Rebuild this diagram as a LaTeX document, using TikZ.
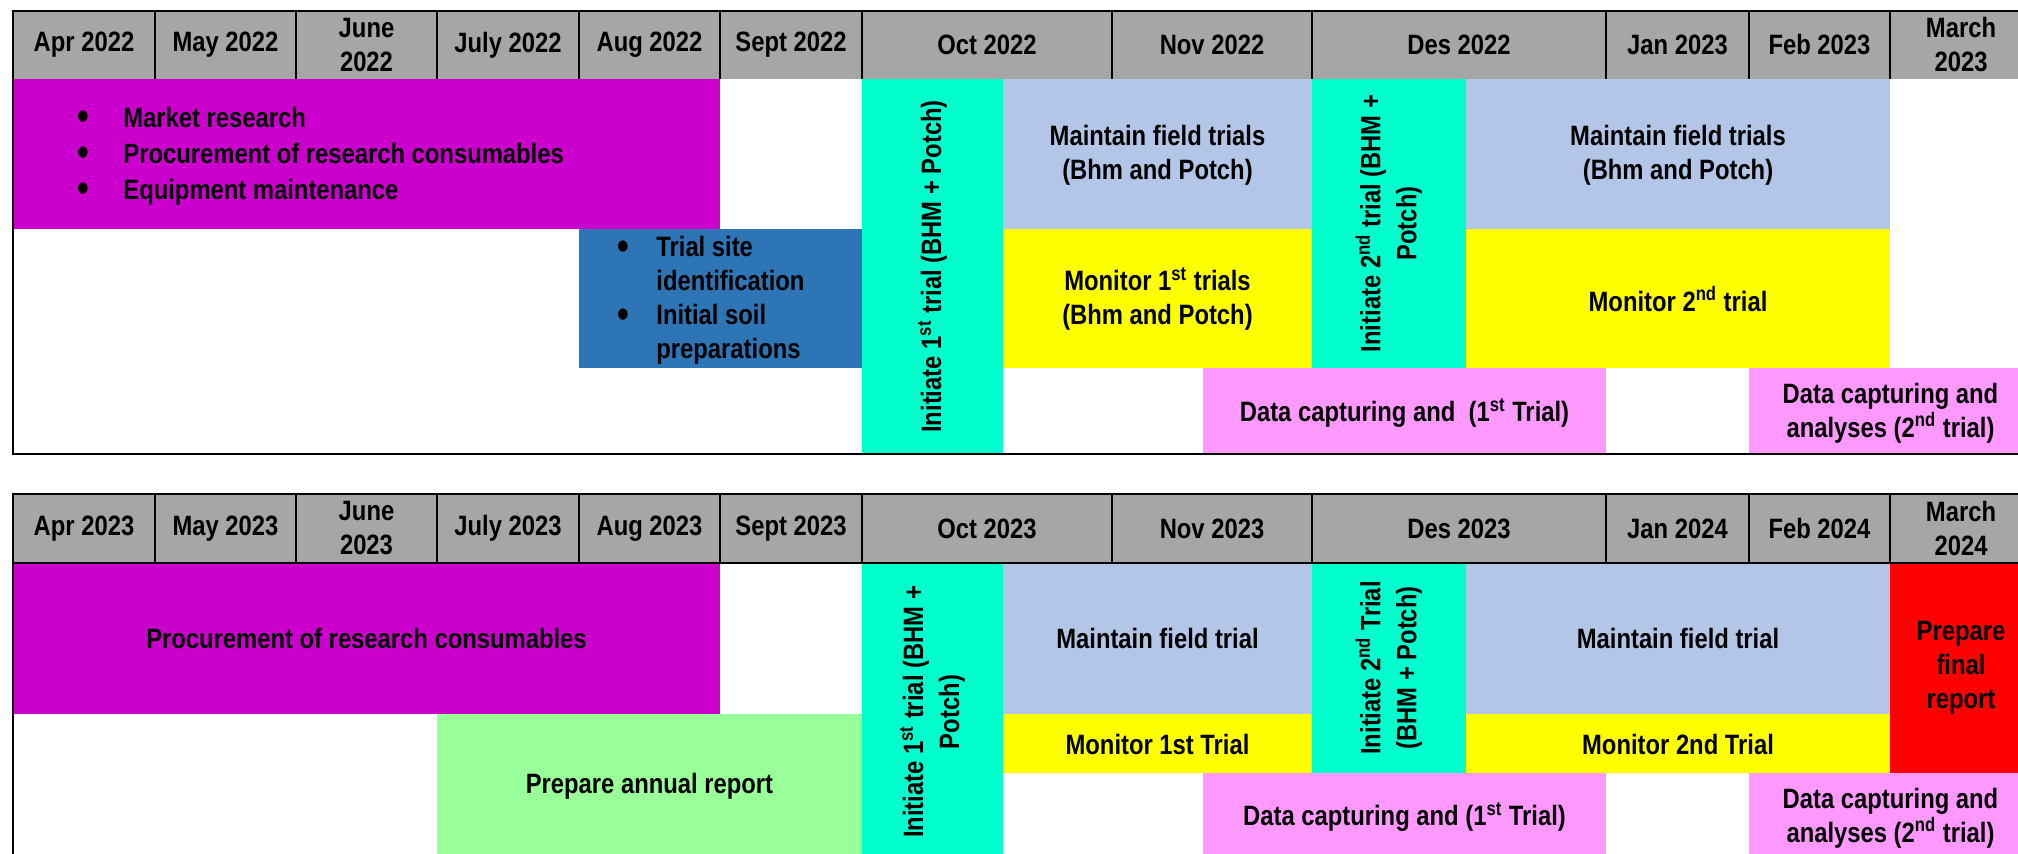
\documentclass[tikz,border=0pt]{standalone}
\usepackage{fontspec}
\setmainfont{Liberation Sans}[FakeStretch=0.85]
\usetikzlibrary{positioning}

\definecolor{hdrgray}{HTML}{A6A6A6}
\definecolor{magentabar}{HTML}{CC00CC}
\definecolor{bluebar}{HTML}{2E75B6}
\definecolor{cyanbar}{HTML}{00FFCC}
\definecolor{fieldbar}{HTML}{B4C6E7}
\definecolor{yellowbar}{HTML}{FFFF00}
\definecolor{pinkbar}{HTML}{FF99FF}
\definecolor{greenbar}{HTML}{99FF99}
\definecolor{redbar}{HTML}{FF0000}

\newcommand{\bul}{\raisebox{-0.08em}{\scalebox{1.4}{\textbullet}}}

\tikzset{
  lbl/.style={font=\fontsize{14}{17}\selectfont\bfseries, align=center, inner sep=0pt},
  vlbl/.style={lbl, rotate=90},
  bullets/.style={lbl, anchor=west, align=left},
  frame/.style={draw=black, line width=1.2pt},
  sep/.style={draw=black, line width=0.9pt}
}

\begin{document}
\begin{tikzpicture}[x=0.5pt,y=-0.5pt]
  \useasboundingbox (0,0) rectangle (2018,854);
  \clip (0,0) rectangle (2018,854);

  % 2022/23 plan
  \fill[hdrgray] (13,11) rectangle (2032,79);
  \foreach \a/\b/\m [count=\i] in {13/155/Apr 2022, 155/296/May 2022, 296/437/{June\\2022},
      437/579/July 2022, 579/720/Aug 2022, 720/862/Sept 2022, 862/1112/Oct 2022,
      1112/1312/Nov 2022, 1312/1606/Des 2022, 1606/1749/Jan 2023, 1749/1890/Feb 2023,
      1890/2032/{March\\2023}}
    \node[lbl] (mon1-\i) at ({(\a+\b)/2},45) {\m};
  \foreach \x in {155,296,437,579,720,862,1112,1312,1606,1749,1890}
    \draw[sep] (\x,11) -- (\x,79);

  \fill[magentabar] (13,79) rectangle (720,229);
  \fill[bluebar] (579,229) rectangle (862,368);
  \fill[cyanbar] (862,79) rectangle (1003,454);
  \fill[fieldbar] (1003,79) rectangle (1312,229);
  \fill[yellowbar] (1003,229) rectangle (1312,368);
  \fill[cyanbar] (1312,79) rectangle (1466,368);
  \fill[fieldbar] (1466,79) rectangle (1890,229);
  \fill[yellowbar] (1466,229) rectangle (1890,368);
  \fill[pinkbar] (1203,368) rectangle (1606,454);
  \fill[pinkbar] (1749,368) rectangle (2032,454);
  \draw[frame] (13,11) rectangle (2032,454);

  \node[bullets, font=\fontsize{14}{18}\selectfont\bfseries] (prep1) at (77,156)
    {\begin{tabular}{@{}p{23pt}@{}l@{}}
      \bul & Market research\\
      \bul & Procurement of research consumables\\
      \bul & Equipment maintenance
    \end{tabular}};
  \node[bullets] (site1) at (617,301)
    {\begin{tabular}{@{}p{19.5pt}@{}l@{}}
      \bul & Trial site\\
           & identification\\
      \bul & Initial soil\\
           & preparations
    \end{tabular}};
  \node[vlbl] (init1a) at (932.5,266.5) {Initiate 1\textsuperscript{st} trial (BHM + Potch)};
  \node[lbl] (maint1a) at (1157.5,155) {Maintain field trials\\(Bhm and Potch)};
  \node[lbl] (mon1a) at (1157.5,299) {Monitor 1\textsuperscript{st} trials\\(Bhm and Potch)};
  \node[vlbl, font=\fontsize{14}{18}\selectfont\bfseries] (init1b) at (1389,223.5)
    {Initiate 2\textsuperscript{nd} trial (BHM +\\Potch)};
  \node[lbl] (maint1b) at (1678,155) {Maintain field trials\\(Bhm and Potch)};
  \node[lbl] (mon1b) at (1678,299) {Monitor 2\textsuperscript{nd} trial};
  \node[lbl] (data1a) at (1404.5,413) {Data capturing and\ \ (1\textsuperscript{st} Trial)};
  \node[lbl] (data1b) at (1890.5,413) {Data capturing and\\analyses (2\textsuperscript{nd} trial)};

  % 2023/24 plan
  \fill[hdrgray] (13,494) rectangle (2032,563);
  \foreach \a/\b/\m [count=\i] in {13/155/Apr 2023, 155/296/May 2023, 296/437/{June\\2023},
      437/579/July 2023, 579/720/Aug 2023, 720/862/Sept 2023, 862/1112/Oct 2023,
      1112/1312/Nov 2023, 1312/1606/Des 2023, 1606/1749/Jan 2024, 1749/1890/Feb 2024,
      1890/2032/{March\\2024}}
    \node[lbl] (mon2-\i) at ({(\a+\b)/2},528.5) {\m};
  \foreach \x in {155,296,437,579,720,862,1112,1312,1606,1749,1890}
    \draw[sep] (\x,494) -- (\x,563);

  \fill[magentabar] (13,563) rectangle (720,714);
  \fill[greenbar] (437,714) rectangle (862,870);
  \fill[cyanbar] (862,563) rectangle (1003,870);
  \fill[fieldbar] (1003,563) rectangle (1312,714);
  \fill[yellowbar] (1003,714) rectangle (1312,773);
  \fill[cyanbar] (1312,563) rectangle (1466,773);
  \fill[fieldbar] (1466,563) rectangle (1890,714);
  \fill[yellowbar] (1466,714) rectangle (1890,773);
  \fill[redbar] (1890,563) rectangle (2032,773);
  \fill[pinkbar] (1203,773) rectangle (1606,870);
  \fill[pinkbar] (1749,773) rectangle (2032,870);
  \draw[frame] (13,494) rectangle (2032,870);
  \draw[frame] (13,563) -- (2032,563);

  \node[lbl] (prep2) at (366.5,638.5) {Procurement of research consumables};
  \node[lbl] (report2) at (649.5,786) {Prepare annual report};
  \node[vlbl, font=\fontsize{14}{18}\selectfont\bfseries] (init2a) at (932.5,712)
    {Initiate 1\textsuperscript{st} trial (BHM +\\Potch)};
  \node[lbl] (maint2a) at (1157.5,638.5) {Maintain field trial};
  \node[lbl] (mon2a) at (1157.5,744) {Monitor 1st Trial};
  \node[vlbl, font=\fontsize{14}{18}\selectfont\bfseries] (init2b) at (1389,668)
    {Initiate 2\textsuperscript{nd} Trial\\(BHM + Potch)};
  \node[lbl] (maint2b) at (1678,638.5) {Maintain field trial};
  \node[lbl] (mon2b) at (1678,744) {Monitor 2nd Trial};
  \node[lbl] (final2) at (1961,668) {Prepare\\final\\report};
  \node[lbl] (data2a) at (1404.5,817) {Data capturing and (1\textsuperscript{st} Trial)};
  \node[lbl] (data2b) at (1890.5,818) {Data capturing and\\analyses (2\textsuperscript{nd} trial)};
\end{tikzpicture}
\end{document}
